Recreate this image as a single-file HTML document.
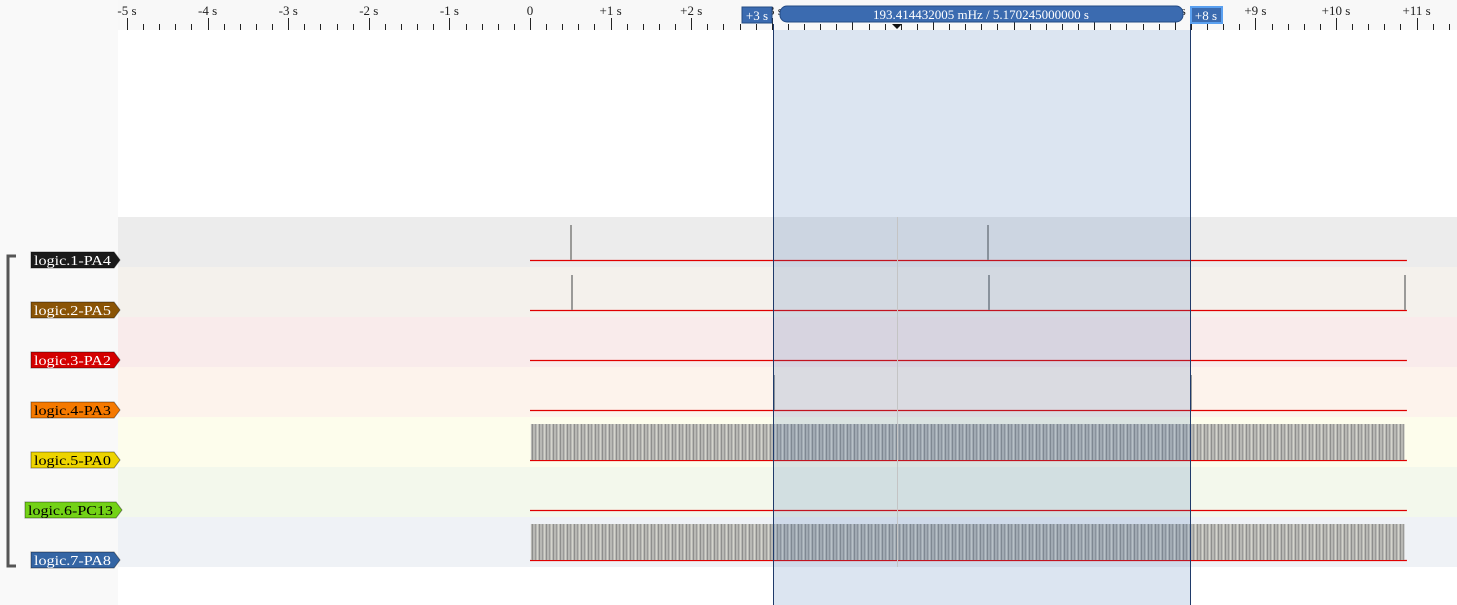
<!DOCTYPE html>
<html><head><meta charset="utf-8">
<style>
body{margin:0;width:1457px;height:605px;overflow:hidden;background:#fff;font-family:"Liberation Serif",serif;}
svg{display:block}
</style></head>
<body>
<svg id="c" width="1457" height="605" xmlns="http://www.w3.org/2000/svg">
<defs>
<pattern id="dense" x="0" y="0" width="7" height="10" patternUnits="userSpaceOnUse">
<rect width="7" height="10" fill="#b8b8b4"/>
<rect x="0" width="1" height="10" fill="#8e8e8c"/>
<rect x="3" width="1" height="10" fill="#9a9a98"/>
<rect x="5" width="1" height="10" fill="#d4d4cc"/>
</pattern>
</defs>
<rect x="0" y="0" width="1457" height="605" fill="#fff"/>
<rect x="0" y="0" width="118" height="605" fill="#f9f9f9"/>
<rect x="118" y="0" width="1339" height="30" fill="#f8f8f8"/>
<g id="ruler"></g>
<g id="rows"></g>
<g id="traces"></g>
<rect x="773" y="30" width="417" height="575" fill="rgb(60,110,180)" fill-opacity="0.18"/>
<line x1="897.5" y1="217" x2="897.5" y2="567" stroke="#c4c4c4" stroke-width="1"/>
<line x1="773.5" y1="24" x2="773.5" y2="605" stroke="#1f3a6a"/>
<line x1="1190.5" y1="24" x2="1190.5" y2="605" stroke="#1f3a6a"/>
<g>
<rect x="742" y="7" width="30" height="16" fill="#3b6bb0" stroke="#234b85"/>
<text x="757" y="20" font-size="13" fill="#fff" text-anchor="middle">+3 s</text>
<rect x="780" y="6" width="403" height="16" rx="7" fill="#3b6bb0" stroke="#234b85"/>
<text x="981" y="19" font-size="13" fill="#fff" text-anchor="middle">193.414432005 mHz / 5.170245000000 s</text>
<rect x="1191" y="7" width="31" height="16" fill="#3b6bb0" stroke="#5aa0f0" stroke-width="2"/>
<text x="1206" y="20" font-size="13" fill="#fff" text-anchor="middle">+8 s</text>
<polygon points="892,24 902,24 897,29" fill="#111"/>
</g>
<path d="M16,256 H8 V566 H16" fill="none" stroke="#555" stroke-width="3"/>
<g id="labels"></g>
</svg>
<script>
const tickSeconds=[-5,-4,-3,-2,-1,0,1,2,3,4,5,6,7,8,9,10,11];
const tickLabels=["-5 s","-4 s","-3 s","-2 s","-1 s","0","+1 s","+2 s","+3 s","+4 s","+5 s","+6 s","+7 s","+8 s","+9 s","+10 s","+11 s"];
const channelNames=["logic.1-PA4","logic.2-PA5","logic.3-PA2","logic.4-PA3","logic.5-PA0","logic.6-PC13","logic.7-PA8"];
const rowColors=["#ececec","#f4f1ec","#f9ebeb","#fdf3ec","#fdfdec","#f3f8ec","#eff2f6"];
const labelColors=["#1a1a1a","#8a5406","#d40000","#f57900","#edd400","#73d216","#3465a4"];
const labelText=["#fff","#fff","#fff","#000","#000","#000","#fff"];
const spikes1=[0.51,5.68];
const spikes2=[0.52,5.69,10.86];
const spikes4=[3.03,8.20];
const denseStart=0.01, denseEnd=10.85;
const traceStart=0, traceEnd=10.88;
const x=t=>530+t*80.6;
const NS="http://www.w3.org/2000/svg";
function mk(tag,a,parent){const e=document.createElementNS(NS,tag);for(const k in a)e.setAttribute(k,a[k]);document.getElementById(parent).appendChild(e);return e;}
tickSeconds.forEach((s,i)=>{
 const l=mk('line',{x1:Math.round(x(s))+0.5,y1:18,x2:Math.round(x(s))+0.5,y2:30,stroke:'#222'},'ruler');
 
 
 const t=mk('text',{x:x(s),y:15,'font-size':13,fill:'#222','text-anchor':'middle'},'ruler');
 t.textContent=tickLabels[i];
 
 
 for(let k=1;k<5;k++){const xm=Math.round(x(s+k*0.2))+0.5;if(xm>1457)break;
  const m=mk('line',{x1:xm,y1:24,x2:xm,y2:30,stroke:'#222'},'ruler');
  
  }
});
channelNames.forEach((n,i)=>{
 const y0=217+i*50;
 const r=mk('rect',{x:118,y:y0,width:1339,height:50,fill:rowColors[i]},'rows');
 
 
 const ly=y0+43;
 const g=mk('g',{},'labels');
 
 
 const w=i==5?91:83, lx=i==5?25:31;
 const p=document.createElementNS(NS,'polygon');
 p.setAttribute('points',`${lx},${ly-8} ${lx+w},${ly-8} ${lx+w+6},${ly} ${lx+w},${ly+8} ${lx},${ly+8}`);
 p.setAttribute('fill',labelColors[i]);p.setAttribute('stroke','rgba(0,0,0,0.4)');g.appendChild(p);
 const t=document.createElementNS(NS,'text');
 t.setAttribute('x',lx+3);t.setAttribute('y',ly+5);t.setAttribute('font-size','14');t.setAttribute('fill',labelText[i]);
 t.setAttribute('textLength',w-6);t.setAttribute('lengthAdjust','spacingAndGlyphs');
 t.textContent=n;g.appendChild(t);
 const bl=mk('line',{x1:x(traceStart),y1:ly+0.5,x2:x(traceEnd),y2:ly+0.5,stroke:'#e00000','stroke-width':1.2},'traces');
 
 
});
function spikes(arr,row){arr.forEach(s=>{const ly=217+row*50+43;
 const l=mk('rect',{x:Math.round(x(s))-1,y:ly-35,width:2,height:35,fill:'#9a9a98'},'traces');
 
 });}
spikes(spikes1,0);spikes(spikes2,1);spikes(spikes4,3);
[4,6].forEach(row=>{const ly=217+row*50+43;
 const d=mk('rect',{x:x(denseStart),y:ly-36,width:x(denseEnd)-x(denseStart),height:36,fill:'url(#dense)'},'traces');
 
 });
</script>
</body></html>
